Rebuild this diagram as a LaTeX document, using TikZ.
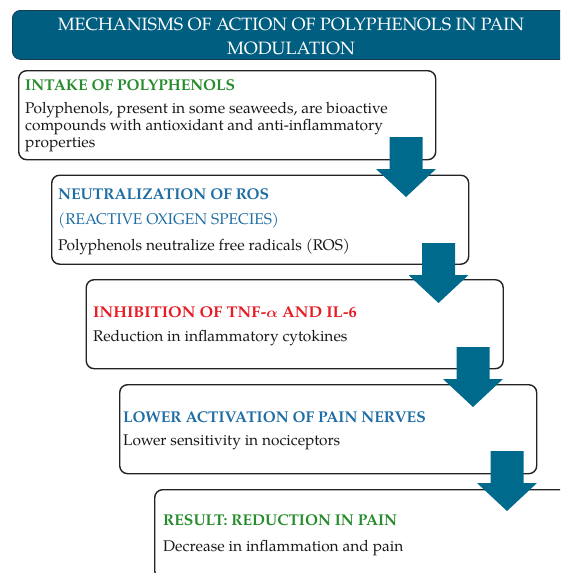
\documentclass[tikz,border=0pt]{standalone}
\usepackage{amsmath}
\usepackage{fontspec}
\setmainfont{TeX Gyre Pagella}
\definecolor{titleteal}{RGB}{0,94,128}
\definecolor{titleedge}{RGB}{20,60,80}
\definecolor{arrowteal}{RGB}{0,106,140}
\definecolor{hgreen}{RGB}{38,140,44}
\definecolor{hblue}{RGB}{30,110,165}
\definecolor{hred}{RGB}{232,28,36}
\definecolor{boxline}{RGB}{35,35,35}
\definecolor{bodytext}{RGB}{25,25,25}
\tikzset{
  stepbox/.style={draw=boxline, line width=1.4pt, rounded corners=8pt, fill=white,
    minimum width=417pt, minimum height=89pt, anchor=north west, inner sep=0pt},
  headtxt/.style={anchor=base west, inner sep=0pt, font=\fontsize{15.6}{18}\selectfont\bfseries},
  subtxt/.style={anchor=base west, inner sep=0pt, font=\fontsize{15.5}{18}\selectfont},
  bodytxt/.style={anchor=base west, inner sep=0pt, text=bodytext,
    font=\fontsize{15.5}{18}\selectfont},
  titletxt/.style={anchor=base, inner sep=0pt, text=white, font=\fontsize{17.85}{20}\selectfont},
  blockarrow/.style={fill=arrowteal}
}
\newcommand\downarrowat[2]{%
  \fill[blockarrow] (#1-16.5,#2) -- (#1+16.5,#2) -- (#1+16.5,#2+32) -- (#1+30,#2+32)
    -- (#1,#2+60) -- (#1-30,#2+32) -- (#1-16.5,#2+32) -- cycle;}
\begin{document}
\begin{tikzpicture}[x=1pt,y=-1pt]
\useasboundingbox (0,0) rectangle (560,573);
\clip (0,0) rectangle (560,573);
% title
\node[fill=titleteal, draw=titleedge, line width=0.8pt, rounded corners=8pt,
  minimum width=580pt, minimum height=49pt, anchor=north west, inner sep=0pt] (title) at (12,10) {};
\node[titletxt] (t1) at (291,30.5) {MECHANISMS OF ACTION OF POLYPHENOLS IN PAIN};
\node[titletxt] (t2) at (291,54) {MODULATION};
% boxes
\node[stepbox] (b1) at (18,70) {};
\node[stepbox] (b2) at (51,174.5) {};
\node[stepbox] (b3) at (85.5,279) {};
\node[stepbox] (b4) at (119,384) {};
\node[stepbox] (b5) at (154,489) {};
% box 1
\node[headtxt, text=hgreen] (h1) at (25,90) {INTAKE OF POLYPHENOLS};
\node[bodytxt] (p1a) at (25,113.5) {Polyphenols, present in some seaweeds, are bioactive};
\node[bodytxt] (p1b) at (25,130.5) {compounds with antioxidant and anti-inflammatory};
\node[bodytxt] (p1c) at (25,147.5) {properties};
% box 2
\node[headtxt, text=hblue] (h2) at (58,199) {NEUTRALIZATION OF ROS};
\node[subtxt, text=hblue] (s2) at (58,224) {(REACTIVE OXIGEN SPECIES)};
\node[bodytxt] (p2) at (58,250) {Polyphenols neutralize free radicals (ROS)};
% box 3
\node[headtxt, text=hred] (h3) at (93,317) {\scalebox{1.055}[1]{INHIBITION OF TNF-$\boldsymbol{\alpha}$ AND IL-6}};
\node[bodytxt] (p3) at (93,341) {Reduction in inflammatory cytokines};
% box 4
\node[headtxt, text=hblue] (h4) at (123,422) {LOWER ACTIVATION OF PAIN NERVES};
\node[bodytxt] (p4) at (123,445) {Lower sensitivity in nociceptors};
% box 5
\node[headtxt, text=hgreen] (h5) at (163,525) {RESULT: REDUCTION IN PAIN};
\node[bodytxt] (p5) at (163,551) {Decrease in inflammation and pain};
% arrows
\downarrowat{406}{137}
\downarrowat{438.5}{243}
\downarrowat{473}{347}
\downarrowat{507}{451}
\end{tikzpicture}
\end{document}
